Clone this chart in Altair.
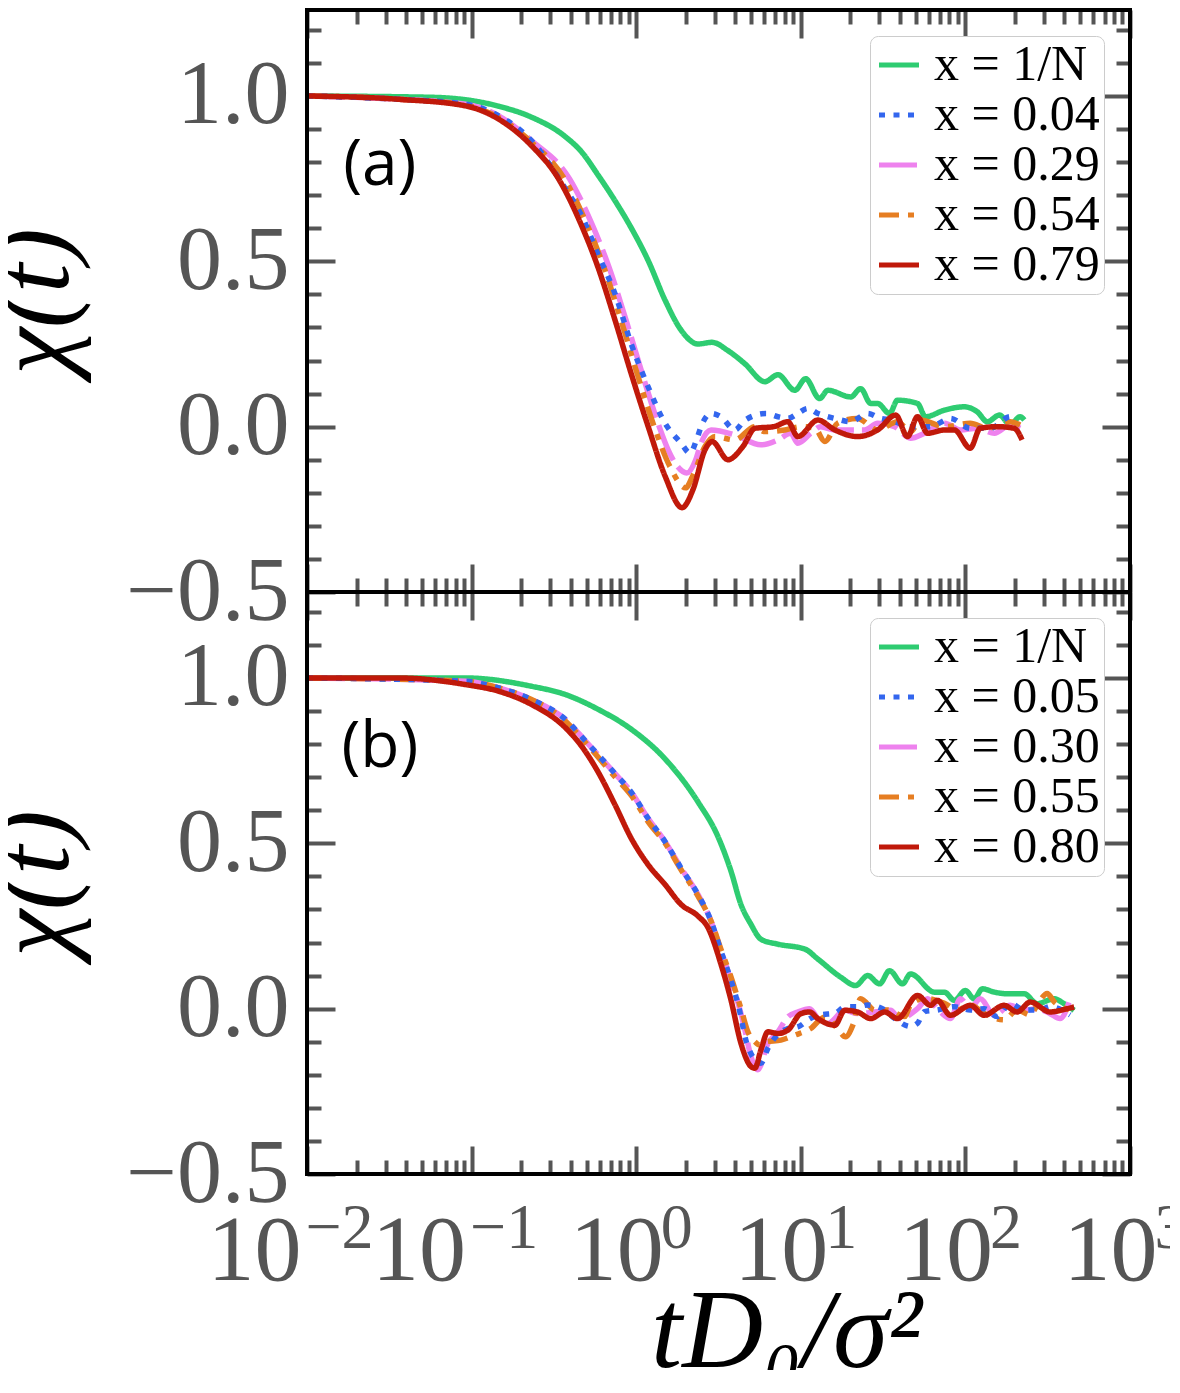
import altair as alt
import pandas as pd

# ---------------- data ----------------
A_LABELS = ["x = 1/N", "x = 0.04", "x = 0.29", "x = 0.54", "x = 0.79"]
B_LABELS = ["x = 1/N", "x = 0.05", "x = 0.30", "x = 0.55", "x = 0.80"]
COLORS = ["#2ecc71", "#3366ee", "#ee82ee", "#e67e22", "#c0190a"]
DASHES = [[1, 0], [6, 8.5], [38, 8], [20, 9, 6, 9], [1, 0]]
DRAW_ORDER = [0, 2, 3, 1, 4]   # green, pink, orange, blue dots, red on top

# panel (a)
A_T_GREEN = [0.01, 0.0573, 0.146, 0.231, 0.371, 0.464, 0.588, 0.746, 0.933, 1.183, 1.499, 1.874, 2.375, 2.89, 3.61,
             4.58, 6.05, 7.26, 9.2, 10.7, 13.0, 14.6, 20.1, 23.1, 26.6, 29.3, 34.6, 38.7, 51.2, 57.2, 74.6, 98.6, 118,
             136, 161, 187, 215, 228]
A_C_GREEN = [1.0, 0.996, 0.969, 0.936, 0.877, 0.832, 0.76, 0.682, 0.601, 0.502, 0.382, 0.292, 0.25, 0.255, 0.23,
             0.19, 0.136, 0.157, 0.11, 0.145, 0.085, 0.11, 0.09, 0.115, 0.07, 0.07, 0.04, 0.08, 0.07, 0.03, 0.05, 0.06,
             0.045, 0.015, 0.035, 0.006, 0.03, 0.02]
A_T_BLUE = [0.01, 0.0361, 0.092, 0.146, 0.231, 0.371, 0.464, 0.588, 0.746, 0.933, 1.183, 1.499, 1.874, 2.124, 2.343,
            2.477, 2.848, 3.27, 3.98, 4.58, 6.14, 7.26, 8.34, 9.59, 11.0, 12.7, 16.1, 20.1, 25.5, 30.5, 35.1, 46.4,
            61.4, 81.1, 107, 142, 187, 206]
A_C_BLUE = [1.0, 0.99, 0.975, 0.94, 0.865, 0.72, 0.64, 0.52, 0.4, 0.25, 0.12, 0.01, -0.05, -0.08, -0.035, 0.0, 0.04,
            0.03, -0.01, 0.02, 0.04, 0.03, 0.025, 0.04, 0.055, 0.04, 0.025, 0.015, 0.04, 0.025, 0.02, 0.0, 0.0, 0.025,
            -0.005, -0.005, 0.03, 0.03]
A_T_PINK = [0.01, 0.0361, 0.092, 0.146, 0.231, 0.393, 0.541, 0.686, 0.87, 1.088, 1.38, 1.563, 1.75, 2.03, 2.3, 2.477,
            2.848, 3.98, 5.72, 7.26, 8.69, 9.59, 11.5, 13.2, 16.1, 24.4, 29.3, 37.1, 46.4, 56.4, 74.6, 93.3, 118, 150,
            187, 215]
A_C_PINK = [1.0, 0.99, 0.975, 0.94, 0.865, 0.75, 0.61, 0.48, 0.32, 0.16, 0.0, -0.07, -0.115, -0.14, -0.1, -0.05,
            -0.01, -0.025, -0.055, -0.04, -0.02, -0.05, -0.02, 0.0, -0.01, -0.01, 0.01, 0.0, -0.035, -0.02, 0.01,
            -0.01, -0.005, -0.02, 0.005, -0.005]
A_T_ORANGE = [0.01, 0.0361, 0.092, 0.146, 0.231, 0.366, 0.504, 0.639, 0.811, 1.014, 1.286, 1.6, 2.0, 2.2, 2.618,
              3.01, 3.98, 5.26, 6.05, 8.0, 10.0, 12.2, 14.0, 16.7, 22.1, 29.3, 38.7, 46.4, 53.4, 74.6, 107, 136, 187,
              215]
A_C_ORANGE = [1.0, 0.99, 0.972, 0.935, 0.86, 0.75, 0.61, 0.48, 0.32, 0.16, 0.0, -0.12, -0.185, -0.15, -0.06, -0.03,
              -0.04, 0.0, -0.015, -0.01, 0.0, -0.005, -0.045, 0.01, 0.025, -0.01, 0.015, -0.015, 0.02, 0.0, 0.01,
              -0.005, 0.015, 0.005]
A_T_RED = [0.01, 0.0361, 0.092, 0.146, 0.231, 0.337, 0.464, 0.588, 0.746, 0.933, 1.183, 1.499, 1.9, 2.214, 2.618,
           2.89, 3.61, 4.45, 5.26, 6.86, 8.34, 9.59, 12.7, 16.1, 22.1, 29.3, 37.7, 44.5, 51.2, 58.9, 74.6, 85.7, 107,
           123, 156, 198, 221]
A_C_RED = [1.0, 0.99, 0.97, 0.93, 0.85, 0.75, 0.61, 0.48, 0.32, 0.16, 0.0, -0.15, -0.245, -0.19, -0.07, -0.045, -0.1,
           -0.06, -0.005, 0.0, 0.015, -0.03, 0.02, -0.01, -0.03, -0.01, 0.035, -0.03, 0.03, -0.02, -0.01, -0.01,
           -0.065, -0.005, 0.0, -0.005, -0.04]

# panel (b)
B_T_GREEN = [0.01, 0.092, 0.231, 0.371, 0.588, 0.933, 1.499, 2.375, 3.14, 3.77, 4.33, 4.98, 5.72, 7.26, 10.6, 12.7,
             17.5, 21.5, 25.5, 30.1, 34.6, 41.5, 46.4, 64.9, 74.6, 85.7, 100, 113, 127, 150, 180, 228, 273, 346, 398,
             458]
B_C_GREEN = [1.0, 1.0, 0.975, 0.95, 0.905, 0.845, 0.755, 0.625, 0.52, 0.415, 0.315, 0.255, 0.21, 0.195, 0.18, 0.15,
             0.095, 0.07, 0.1, 0.075, 0.115, 0.075, 0.105, 0.05, 0.05, 0.025, 0.055, 0.03, 0.06, 0.05, 0.045, 0.045,
             0.015, 0.03, 0.015, -0.005]
B_T_BLUE = [0.01, 0.092, 0.146, 0.231, 0.371, 0.491, 0.746, 0.933, 1.183, 1.499, 1.874, 2.375, 2.848, 3.27, 3.77,
            4.15, 4.77, 5.72, 6.31, 7.05, 8.34, 9.59, 11.5, 13.2, 16.1, 18.7, 22.1, 25.5, 32.3, 37.1, 46.4, 51.2, 56.4,
            67.6, 85.7, 107, 130, 156, 187, 228, 285, 327, 433]
B_C_BLUE = [1.0, 0.99, 0.97, 0.935, 0.875, 0.81, 0.71, 0.655, 0.575, 0.505, 0.425, 0.345, 0.265, 0.175, 0.085, 0.015,
            -0.115, -0.165, -0.12, -0.085, -0.06, -0.055, -0.029, -0.019, -0.014, 0.006, 0.006, 0.011, -0.004,
            -0.029, -0.054, -0.044, -0.009, -0.004, 0.006, -0.004, 0.0, -0.024, 0.016, -0.004, -0.004, 0.006, -0.019]
B_T_PINK = [0.01, 0.092, 0.146, 0.231, 0.371, 0.491, 0.746, 0.933, 1.183, 1.499, 1.874, 2.375, 2.848, 3.27, 3.77,
            4.33, 4.58, 4.98, 5.48, 6.31, 7.26, 8.34, 9.59, 11.3, 13.2, 14.6, 18.5, 22.1, 28.1, 35.1, 39.8, 51.2, 58.9,
            67.6, 81.1, 93.3, 107, 123, 150, 187, 228, 273, 327, 376, 433]
B_C_PINK = [1.0, 0.99, 0.97, 0.935, 0.875, 0.81, 0.71, 0.655, 0.575, 0.505, 0.425, 0.345, 0.265, 0.175, 0.085,
            -0.015, -0.065, -0.145, -0.185, -0.105, -0.07, -0.025, -0.01, 0.0, -0.04, -0.045, -0.005, -0.015, -0.01,
            -0.005, -0.03, 0.0, 0.03, 0.0, -0.03, 0.03, 0.0, 0.03, -0.02, 0.01, -0.005, 0.0, -0.015, -0.03, 0.03]
B_T_ORANGE = [0.01, 0.092, 0.146, 0.231, 0.371, 0.491, 0.746, 0.933, 1.183, 1.499, 1.874, 2.375, 2.848, 3.27, 3.77,
              4.33, 4.77, 5.26, 5.64, 6.14, 7.57, 9.2, 11.5, 14.0, 16.7, 18.7, 20.7, 23.1, 28.1, 33.7, 42.7, 46.4,
              56.4, 74.6, 89.5, 107, 130, 172, 206, 248, 273, 314, 346, 433]
B_C_ORANGE = [1.0, 0.99, 0.97, 0.935, 0.87, 0.805, 0.70, 0.645, 0.565, 0.5, 0.42, 0.34, 0.265, 0.18, 0.095, 0.0,
              -0.07, -0.1, -0.11, -0.1, -0.095, -0.08, -0.06, -0.025, -0.06, -0.085, -0.05, 0.03, -0.004, -0.004,
              -0.024, 0.011, 0.031, 0.016, -0.004, 0.011, -0.014, -0.034, -0.004, -0.019, 0.011, 0.046, 0.021, -0.004]
B_T_RED = [0.01, 0.0361, 0.092, 0.146, 0.231, 0.371, 0.464, 0.588, 0.746, 0.933, 1.183, 1.499, 1.874, 2.375, 2.73,
           3.27, 3.77, 4.33, 4.98, 5.26, 5.72, 6.31, 7.26, 8.34, 10.0, 11.3, 12.7, 16.1, 18.5, 22.1, 26.6, 32.3, 38.7,
           51.2, 61.4, 67.6, 81.1, 107, 130, 172, 206, 248, 327, 415, 458]
B_C_RED = [1.0, 1.0, 0.98, 0.96, 0.92, 0.85, 0.795, 0.715, 0.615, 0.515, 0.435, 0.375, 0.315, 0.28, 0.245, 0.135,
           0.025, -0.105, -0.175, -0.18, -0.125, -0.07, -0.075, -0.065, -0.015, -0.01, -0.03, -0.05, -0.005, -0.01,
           -0.03, -0.01, -0.03, 0.04, 0.01, 0.025, -0.02, 0.01, -0.02, 0.01, -0.01, 0.02, -0.01, 0.0, 0.005]

# axis tick values and labels
MAJOR_X = [0.01, 0.1, 1, 10, 100, 1000]
MINOR_X = [m * d for d in [0.01, 0.1, 1, 10, 100] for m in range(2, 10)]
MAJOR_Y = [-0.5, 0.0, 0.5, 1.0]
MINOR_Y = [-0.4, -0.3, -0.2, -0.1, 0.1, 0.2, 0.3, 0.4, 0.6, 0.7, 0.8, 0.9, 1.1, 1.2]
X_TITLE = "tD₀/σ²"
Y_TITLE = "χ(t)"
TAGS = ["(a)", "(b)"]
TAG_T = [0.0277, 0.0277]
TAG_C = [0.787, 0.787]

# ---------------- styling ----------------
GRAY = "#555555"
SERIF = "Liberation Serif"
W, H = 823, 582
FRAME = alt.ViewBackground(stroke="black", strokeWidth=4)

xs = alt.Scale(type="log", domain=[0.01, 1000], nice=False)
ys = alt.Scale(domain=[-0.5, 1.26], nice=False, zero=False)


def tick_axis(orient, values, size):
    # inward ticks: axis moved inside by its own tick length, reserving no layout space
    return alt.Axis(orient=orient, values=values, ticks=True, tickSize=size, offset=-size,
                    tickColor=GRAY, tickWidth=4, labels=False, domain=False, grid=False, title=None,
                    minExtent=0, maxExtent=0)


def dummy(x_axis, y_axis):
    d = pd.DataFrame({"t": [1.0], "chi": [0.0]})
    return alt.Chart(d).mark_point(opacity=0, size=1).encode(
        x=alt.X("t:Q", scale=xs, axis=x_axis),
        y=alt.Y("chi:Q", scale=ys, axis=y_axis),
    )


def panel(labels, ts, cs, tag_i, bottom):
    rows = []
    for i in DRAW_ORDER:
        for t, c in zip(ts[i], cs[i]):
            rows.append({"t": t, "chi": c, "series": labels[i]})
    df = pd.DataFrame(rows)

    leg = alt.Legend(title=None, orient="top-right", offset=26, fillColor="white", strokeColor="#cccccc",
                     cornerRadius=8, padding=4, labelFont=SERIF, labelFontSize=50, labelColor="black",
                     symbolType="stroke", symbolSize=1600, symbolStrokeWidth=5, rowPadding=0,
                     labelOffset=10, labelLimit=400)

    lines = alt.Chart(df).mark_line(strokeWidth=5.5, strokeCap="butt", interpolate="monotone").encode(
        x=alt.X("t:Q", scale=xs, axis=tick_axis("bottom", MAJOR_X, 28)),
        y=alt.Y("chi:Q", scale=ys, axis=tick_axis("left", MAJOR_Y, 28)),
        color=alt.Color("series:N", scale=alt.Scale(domain=labels, range=COLORS), legend=leg),
        strokeDash=alt.StrokeDash("series:N", scale=alt.Scale(domain=labels, range=DASHES), legend=leg),
    )

    ylab = alt.Axis(orient="left", values=MAJOR_Y, format=".1f", ticks=False, domain=False, grid=False,
                    labelFont=SERIF, labelFontSize=90, labelColor=GRAY, labelPadding=18,
                    labelOverlap=False, labelFlush=False,
                    title=Y_TITLE, titleFont=SERIF, titleFontSize=106, titleFontStyle="italic",
                    titleFontWeight="normal", titleColor="black", titlePadding=36)

    layers = [
        lines,
        dummy(tick_axis("bottom", MINOR_X, 14), tick_axis("left", MINOR_Y, 14)),
        dummy(tick_axis("top", MAJOR_X, 28), tick_axis("right", MAJOR_Y, 28)),
        dummy(tick_axis("top", MINOR_X, 14), tick_axis("right", MINOR_Y, 14)),
    ]
    if bottom:
        xbase = alt.Axis(orient="bottom", values=MAJOR_X, ticks=False, domain=False, grid=False,
                         labelExpr="'10'", labelAlign="right",
                         labelOffset={"condition": {"test": "datum.value < 0.5", "value": -6}, "value": 27},
                         labelFont=SERIF, labelFontSize=94, labelColor=GRAY, labelPadding=31,
                         labelFlush=False, labelOverlap=False,
                         title=X_TITLE, titleFont=SERIF, titleFontSize=112, titleFontStyle="italic",
                         titleFontWeight="normal", titleColor="black", titlePadding=-20, titleX=479)
        xexp = alt.Axis(orient="bottom", values=MAJOR_X, ticks=False, domain=False, grid=False,
                        labelExpr="format(round(log(datum.value) / LN10), 'd')", labelAlign="left",
                        labelOffset={"condition": {"test": "datum.value < 0.5", "value": -2}, "value": 24},
                        labelFont=SERIF, labelFontSize=64, labelColor=GRAY, labelPadding=22,
                        labelFlush=False, labelOverlap=False, title=None)
        layers.append(dummy(xbase, ylab))
        layers.append(dummy(xexp, None))
    else:
        layers.append(dummy(None, ylab))

    tag_df = pd.DataFrame({"t": [TAG_T[tag_i]], "chi": [TAG_C[tag_i]], "label": [TAGS[tag_i]]})
    tag = alt.Chart(tag_df).mark_text(font="Open Sans", fontSize=64, color="black",
                                      align="center", baseline="middle").encode(
        x=alt.X("t:Q", scale=xs, axis=None),
        y=alt.Y("chi:Q", scale=ys, axis=None),
        text="label:N",
    )
    layers.append(tag)

    # black axes frame drawn over the inward ticks
    frame = alt.Chart(pd.DataFrame({"f": [0]})).mark_rect(filled=False, stroke="black", strokeWidth=4).encode(
        x=alt.value(0), x2=alt.value(W), y=alt.value(0), y2=alt.value(H))
    layers.append(frame)

    return (alt.layer(*layers).resolve_axis(x="independent", y="independent")
            .properties(width=W, height=H, view=FRAME))


pa = panel(A_LABELS,
           [A_T_GREEN, A_T_BLUE, A_T_PINK, A_T_ORANGE, A_T_RED],
           [A_C_GREEN, A_C_BLUE, A_C_PINK, A_C_ORANGE, A_C_RED], 0, False)
pb = panel(B_LABELS,
           [B_T_GREEN, B_T_BLUE, B_T_PINK, B_T_ORANGE, B_T_RED],
           [B_C_GREEN, B_C_BLUE, B_C_PINK, B_C_ORANGE, B_C_RED], 1, True)

chart = (
    alt.vconcat(pa, pb, spacing=0, bounds="flush")
    .resolve_scale(color="independent", strokeDash="independent")
    .configure(padding={"left": -28, "top": -2, "right": -18, "bottom": -20}, background="white")
    .configure_view(stroke="black", strokeWidth=4)
)

chart.save("out.html", embed_options={"renderer": "svg", "actions": False})
